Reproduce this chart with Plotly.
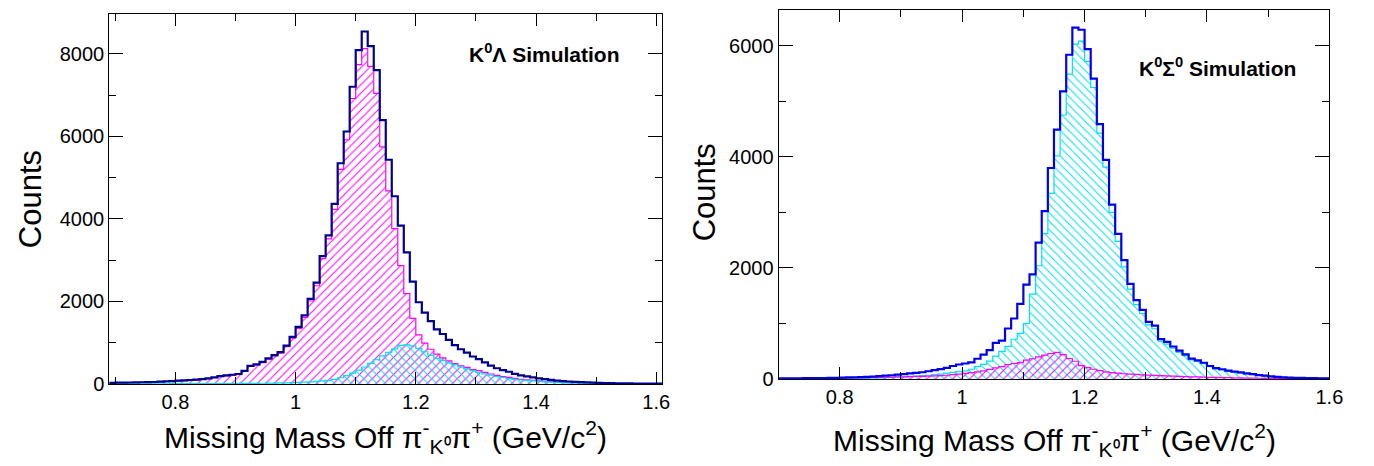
import plotly.graph_objects as go

W, H = 1374, 466
BIN = 0.01

# ---------------- Left panel: K0 Lambda simulation (bins start at 0.69) -------------
lam_start = 0.69
lam_total = [
    25, 30, 32, 34, 37, 40, 42, 46, 54, 62, 70,            # 0.69-0.79
    78, 86, 95, 104, 118, 135, 160, 188, 205, 222,         # 0.80-0.89
    240, 318, 436, 476, 532, 620, 700, 770, 928, 1140,     # 0.90-0.99
    1385, 1660, 2060, 2455, 3100, 3600, 4365, 5350, 6120, 7205,  # 1.00-1.09
    8095, 8545, 8190, 7610, 6395, 5435, 4550, 3840, 3190, 2480,  # 1.10-1.19
    1980, 1730, 1520, 1320, 1210, 1070, 940, 840, 760, 665,      # 1.20-1.29
    600, 520, 445, 380, 335, 295, 245, 205, 185, 160,            # 1.30-1.39
    135, 115, 98, 82, 68, 58, 50, 42, 36, 30,                    # 1.40-1.49
    26, 22, 19, 16, 14, 12, 10, 9, 8, 7,                         # 1.50-1.59
    6,                                                           # 1.60
]
lam_lambda = [
    23, 28, 30, 31, 34, 37, 39, 42, 50, 58, 65,
    73, 81, 89, 98, 111, 128, 152, 180, 196, 212,
    229, 306, 423, 462, 516, 602, 680, 747, 901, 1109,
    1345, 1615, 2010, 2380, 3040, 3515, 4230, 5200, 5920, 6920,
    7740, 8130, 7700, 7045, 5745, 4680, 3765, 2870, 2190, 1590,
    1190, 990, 840, 720, 630, 560, 490, 440, 400, 350,
    320, 280, 240, 205, 180, 160, 135, 110, 100, 88,
    75, 65, 56, 46, 38, 33, 29, 24, 21, 17,
    15, 12, 10, 8, 7, 6, 5, 4, 4, 3,
    3,
]
lam_sigma = [
    2, 2, 2, 3, 3, 3, 3, 4, 4, 4, 5,
    5, 5, 6, 6, 7, 7, 8, 8, 9, 10,
    11, 12, 13, 14, 16, 18, 20, 23, 27, 31,
    36, 42, 50, 60, 72, 88, 112, 150, 200, 262,
    332, 410, 500, 590, 680, 765, 850, 935, 945, 920,
    860, 780, 700, 620, 570, 510, 460, 410, 365, 320,
    280, 245, 210, 180, 155, 130, 110, 95, 85, 72,
    60, 50, 42, 36, 30, 25, 21, 18, 15, 13,
    11, 10, 9, 8, 7, 6, 5, 5, 4, 4,
    3,
]

# ---------------- Right panel: K0 Sigma0 simulation (bins start at 0.70) ------------
sig_start = 0.70
sig_total = [
    12, 12, 13, 14, 15, 16, 17, 18, 20, 22,
    25, 28, 32, 36, 40, 45, 52, 60, 68, 78,
    88, 100, 112, 122, 140, 160, 180, 200, 235, 262,
    280, 300, 365, 440, 520, 650, 690, 910, 1090, 1355,
    1700, 1885, 2455, 3025, 3800, 4490, 5180, 5840, 6330, 6290,
    5940, 5410, 4590, 3945, 3140, 2615, 2140, 1715, 1420, 1245,
    1030, 960, 720, 668, 586, 512, 445, 366, 337, 293,
    235, 195, 176, 150, 135, 118, 100, 88, 72, 60,
    48, 38, 30, 26, 22, 20, 18, 16, 14, 12,
]
sig_sigma = [
    5, 5, 6, 6, 7, 7, 8, 8, 9, 9,
    10, 11, 12, 14, 16, 19, 22, 26, 30, 35,
    40, 46, 52, 60, 68, 78, 90, 105, 120, 135,
    147, 176, 223, 264, 323, 411, 499, 587, 716, 822,
    1000, 1530, 2040, 2620, 3345, 4020, 4755, 5490, 6030, 6085,
    5720, 5250, 4430, 3815, 3000, 2480, 2020, 1620, 1340, 1180,
    975, 905, 680, 630, 555, 480, 420, 345, 318, 276,
    222, 184, 166, 141, 127, 111, 94, 83, 68, 56,
    45, 35, 28, 24, 20, 18, 16, 14, 12, 10,
]
sig_lambda = [
    5, 6, 7, 8, 9, 10, 11, 12, 14, 16,
    18, 20, 22, 24, 26, 28, 30, 33, 36, 38,
    40, 43, 46, 49, 52, 55, 60, 68, 78, 88,
    100, 115, 130, 148, 175, 200, 225, 262, 280, 295,
    340, 365, 400, 430, 460, 480, 440, 370, 320, 240,
    205, 176, 150, 130, 115, 105, 95, 88, 82, 76,
    70, 64, 60, 56, 52, 48, 44, 40, 37, 34,
    30, 28, 26, 24, 22, 20, 18, 16, 14, 13,
    12, 11, 10, 9, 9, 8, 8, 7, 7, 6,
]

x_tickvals = [0.8, 1.0, 1.2, 1.4, 1.6]
x_ticktext = ["0.8", "1", "1.2", "1.4", "1.6"]
x_minor = [0.7, 0.9, 1.1, 1.3, 1.5]

NAVY = "#00008f"
BLUE = "#0000ee"
MAGENTA = "#ff00ff"
CYAN = "#00e0f0"
FONT = "Liberation Sans, Arial, sans-serif"


def edges(start, n):
    return [round(start + i * BIN, 4) for i in range(n + 1)]


def centers(start, n):
    return [round(start + (i + 0.5) * BIN, 4) for i in range(n)]


def hatch(start, vals, color, shape, xa, ya):
    return go.Bar(
        x=centers(start, len(vals)), y=vals, width=BIN, base=0,
        marker=dict(color="rgba(0,0,0,0)", line=dict(width=0),
                    pattern=dict(shape=shape, fgcolor=color, bgcolor="rgba(0,0,0,0)",
                                 size=6, solidity=0.17, fillmode="replace")),
        xaxis=xa, yaxis=ya, showlegend=False, hoverinfo="skip",
    )


def step(start, vals, color, width, xa, ya):
    x = edges(start, len(vals))
    y = list(vals) + [vals[-1]]
    return go.Scatter(x=x, y=y, mode="lines", line=dict(color=color, width=width, shape="hv"),
                      xaxis=xa, yaxis=ya, showlegend=False, hoverinfo="skip")


fig = go.Figure()
# left panel
fig.add_trace(hatch(lam_start, lam_lambda, MAGENTA, "/", "x", "y"))
fig.add_trace(hatch(lam_start, lam_sigma, CYAN, "\\", "x", "y"))
fig.add_trace(step(lam_start, lam_lambda, MAGENTA, 1.2, "x", "y"))
fig.add_trace(step(lam_start, lam_sigma, CYAN, 1.2, "x", "y"))
fig.add_trace(step(lam_start, lam_total, NAVY, 2.2, "x", "y"))
# right panel
fig.add_trace(hatch(sig_start, sig_sigma, CYAN, "\\", "x2", "y2"))
fig.add_trace(hatch(sig_start, sig_lambda, MAGENTA, "/", "x2", "y2"))
fig.add_trace(step(sig_start, sig_sigma, CYAN, 1.2, "x2", "y2"))
fig.add_trace(step(sig_start, sig_lambda, MAGENTA, 1.2, "x2", "y2"))
fig.add_trace(step(sig_start, sig_total, BLUE, 2.2, "x2", "y2"))


def px(x):
    return x / W


def py(y):
    return 1 - y / H


axis_common = dict(
    showline=True, linecolor="black", linewidth=1, mirror="ticks",
    ticks="inside", tickcolor="black", tickwidth=1,
    showgrid=False, zeroline=False,
    tickfont=dict(family=FONT, size=20, color="black"),
)

lam_ymax = max(lam_total) * 1.05
sig_ymax = max(sig_total) * 1.05

fig.update_layout(
    width=W, height=H,
    margin=dict(l=0, r=0, t=0, b=0),
    paper_bgcolor="white", plot_bgcolor="white",
    barmode="overlay", bargap=0,
    xaxis=dict(domain=[px(102.3), px(661)], range=[0.69, 1.61], anchor="y",
               tickvals=x_tickvals, ticktext=x_ticktext, ticklen=12,
               minor=dict(tickvals=x_minor, ticklen=7, ticks="inside", tickcolor="black", showgrid=False),
               **axis_common),
    yaxis=dict(domain=[py(385), py(6)], range=[0, lam_ymax], anchor="x",
               tickvals=[0, 2000, 4000, 6000, 8000], ticklen=14,
               minor=dict(tickvals=[1000, 3000, 5000, 7000], ticklen=7, ticks="inside", tickcolor="black", showgrid=False),
               **axis_common),
    xaxis2=dict(domain=[px(778.5), px(1335)], range=[0.7, 1.6], anchor="y2",
                tickvals=x_tickvals, ticktext=x_ticktext, ticklen=12,
                minor=dict(tickvals=x_minor, ticklen=7, ticks="inside", tickcolor="black", showgrid=False),
                **axis_common),
    yaxis2=dict(domain=[py(380), py(2)], range=[0, sig_ymax], anchor="x2",
                tickvals=[0, 2000, 4000, 6000], ticklen=14,
                minor=dict(tickvals=[1000, 3000, 5000], ticklen=7, ticks="inside", tickcolor="black", showgrid=False),
                **axis_common),
)

xtitle = "Missing Mass Off π<sup>-</sup><sub>K⁰</sub>π<sup>+</sup> (GeV/c<sup>2</sup>)"
ann = [
    dict(text=xtitle, x=px(381.5), y=py(439), xanchor="center", yanchor="middle",
         font=dict(family=FONT, size=30, color="black")),
    dict(text=xtitle, x=px(1057), y=py(442), xanchor="center", yanchor="middle",
         font=dict(family=FONT, size=30, color="black")),
    dict(text="Counts", textangle=-90, x=px(23), y=py(196), xanchor="center", yanchor="middle",
         font=dict(family=FONT, size=31, color="black")),
    dict(text="Counts", textangle=-90, x=px(704), y=py(189), xanchor="center", yanchor="middle",
         font=dict(family=FONT, size=31, color="black")),
    dict(text="<b>K<sup>0</sup>Λ Simulation</b>", x=px(542), y=py(46), xanchor="center", yanchor="middle",
         font=dict(family=FONT, size=21, color="black")),
    dict(text="<b>K<sup>0</sup>Σ<sup>0</sup> Simulation</b>", x=px(1222), y=py(60), xanchor="center",
         yanchor="middle", font=dict(family=FONT, size=21, color="black")),
]
for a in ann:
    a.update(xref="paper", yref="paper", showarrow=False)
fig.update_layout(annotations=ann)

fig.write_html("out.html")
